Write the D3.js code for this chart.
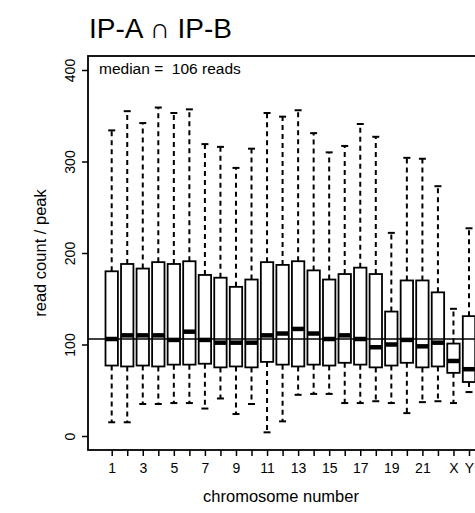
<!DOCTYPE html>
<html>
<head>
<meta charset="utf-8">
<script src="https://cdn.jsdelivr.net/npm/d3@7"></script>
<style>
  body { margin: 0; background: #fff; }
  svg { display: block; font-family: "Liberation Sans", Arial, sans-serif; }
</style>
</head>
<body>
<div id="chart"></div>
<script>
// chromosome boxplot stats
const chromosomes = ['1','2','3','4','5','6','7','8','9','10','11','12','13','14','15','16','17','18','19','20','21','22','X','Y'];
const tickLabels = ['1','','3','','5','','7','','9','','11','','13','','15','','17','','19','','21','','X','Y'];
const whiskerHigh = [334,355,342,359,353,357,319,316,293,314,353,349,356,331,310,317,341,327,222,304,303,273,139,227];
const q3 = [180,188,183,190,188,191,176,173,163,171,190,187,191,181,171,177,184,177,136,170,170,157,101,131];
const medians = [106,110,110,110,105,114,105,102,102,102,110,112,117,112,106,110,106,97,100,105,98,102,82,73];
const q1 = [77,76,77,76,78,78,79,75,76,75,81,78,76,78,77,80,78,75,77,80,75,76,69,59];
const whiskerLow = [15,15,35,35,36,36,30,41,24,35,4,16,45,46,46,36,36,38,36,25,37,38,36,48];
const overallMedian = 106;
const yTicks = [0, 100, 200, 300, 400];

const width = 475, height = 513;
const margin = { top: 56, right: -2, bottom: 63, left: 88 };
const innerW = width - margin.left - margin.right;
const innerH = height - margin.top - margin.bottom;

const svg = d3.select('#chart').append('svg')
  .attr('width', width)
  .attr('height', height);

const g = svg.append('g').attr('transform', `translate(${margin.left},${margin.top})`);

const x = d3.scalePoint().domain(chromosomes).range([23.7, 381]);
const y = d3.scaleLinear().domain([0, 400]).range([380, 14]);

const boxW = 12.4, capW = 7;

const rows = chromosomes.map((c, i) => ({
  c, hi: whiskerHigh[i], q3: q3[i], med: medians[i], q1: q1[i], lo: whiskerLow[i]
}));

const box = g.selectAll('g.box').data(rows).enter().append('g')
  .attr('class', 'box')
  .attr('transform', d => `translate(${x(d.c)},0)`);

// whiskers
box.append('line')
  .attr('y1', d => y(d.q3)).attr('y2', d => y(d.hi))
  .attr('stroke', '#000').attr('stroke-width', 2).attr('stroke-dasharray', '5,4');
box.append('line')
  .attr('y1', d => y(d.q1)).attr('y2', d => y(d.lo))
  .attr('stroke', '#000').attr('stroke-width', 2).attr('stroke-dasharray', '5,4');
box.append('line')
  .attr('x1', -capW / 2).attr('x2', capW / 2)
  .attr('y1', d => y(d.hi)).attr('y2', d => y(d.hi))
  .attr('stroke', '#000').attr('stroke-width', 2);
box.append('line')
  .attr('x1', -capW / 2).attr('x2', capW / 2)
  .attr('y1', d => y(d.lo)).attr('y2', d => y(d.lo))
  .attr('stroke', '#000').attr('stroke-width', 2);

// boxes
box.append('rect')
  .attr('x', -boxW / 2).attr('width', boxW)
  .attr('y', d => y(d.q3)).attr('height', d => y(d.q1) - y(d.q3))
  .attr('fill', '#fff').attr('stroke', '#000').attr('stroke-width', 1.8);
box.append('line')
  .attr('x1', -boxW / 2).attr('x2', boxW / 2)
  .attr('y1', d => y(d.med)).attr('y2', d => y(d.med))
  .attr('stroke', '#000').attr('stroke-width', 4.5);

// overall median reference line
g.append('line')
  .attr('x1', 0).attr('x2', innerW)
  .attr('y1', y(overallMedian)).attr('y2', y(overallMedian))
  .attr('stroke', '#000').attr('stroke-width', 1.6);

// frame
g.append('rect')
  .attr('width', innerW).attr('height', innerH)
  .attr('fill', 'none').attr('stroke', '#000').attr('stroke-width', 1.8);

// axes
const yAxis = g.append('g')
  .call(d3.axisLeft(y).tickValues(yTicks).tickSize(6).tickPadding(0).tickFormat(d3.format('d')));
yAxis.select('.domain').remove();
yAxis.selectAll('line').attr('stroke-width', 1.5);
yAxis.selectAll('text')
  .attr('x', null).attr('dy', null)
  .attr('text-anchor', 'middle')
  .attr('transform', 'translate(-13,0) rotate(-90)')
  .attr('font-size', 14).attr('fill', '#000');

const xAxis = g.append('g')
  .attr('transform', `translate(0,${innerH})`)
  .call(d3.axisBottom(x).tickSize(6).tickPadding(7).tickFormat((d, i) => tickLabels[i]));
xAxis.select('.domain').remove();
xAxis.selectAll('line').attr('stroke-width', 1.5);
xAxis.selectAll('text').attr('font-size', 14).attr('fill', '#000');

// labels
g.append('text')
  .attr('x', 11).attr('y', 18)
  .attr('font-size', 15.5)
  .style('white-space', 'pre')
  .text(`median =  ${overallMedian} reads`);

svg.append('text')
  .attr('x', 89).attr('y', 38)
  .attr('font-size', 28)
  .text('IP-A \u2229 IP-B');

svg.append('text')
  .attr('x', 281).attr('y', 502)
  .attr('text-anchor', 'middle')
  .attr('font-size', 16.5)
  .text('chromosome number');

svg.append('text')
  .attr('transform', `translate(46,${margin.top + innerH / 2}) rotate(-90)`)
  .attr('text-anchor', 'middle')
  .attr('font-size', 16.5)
  .text('read count / peak');
</script>
</body>
</html>
